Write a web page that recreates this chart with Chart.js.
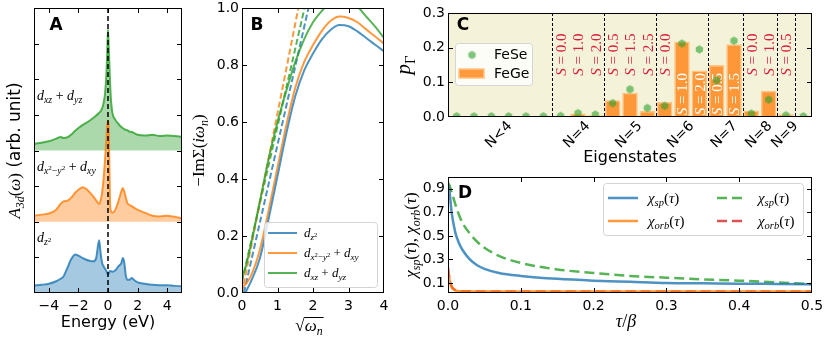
<!DOCTYPE html>
<html>
<head>
<meta charset="utf-8">
<script src="https://cdn.jsdelivr.net/npm/chart.js@4.4.1/dist/chart.umd.min.js"></script>
<style>
  html, body { margin: 0; padding: 0; background: #fff; }
  #wrap { position: relative; width: 830px; height: 342px; overflow: hidden; background: #fff; }
  #wrap canvas { position: absolute; }
</style>
</head>
<body>
<div id="wrap">
  <canvas id="panel-a" width="200" height="342" style="left:0;top:0"></canvas>
  <canvas id="panel-b" width="200" height="342" style="left:190px;top:0"></canvas>
  <canvas id="panel-c" width="440" height="172" style="left:390px;top:0"></canvas>
  <canvas id="panel-d" width="440" height="177" style="left:390px;top:165px"></canvas>
</div>
<script>
// ---- panel A: orbital resolved spectral function ----
const aEnergy = [-5, -4.5, -4, -3.5, -3.2, -3, -2.7, -2.5, -2.2, -2, -1.7, -1.5, -1.2, -1, -0.8, -0.6, -0.5, -0.4, -0.3, -0.2, -0.1, -0.05, 0,
                 0.05, 0.1, 0.15, 0.2, 0.3, 0.5, 0.7, 0.9, 1, 1.1, 1.2, 1.3, 1.45, 1.6, 1.8, 2, 2.5, 3, 3.5, 4, 4.5, 5];
const aDz2   = [0.21, 0.23, 0.26, 0.33, 0.40, 0.47, 0.75, 0.94, 1.08, 1.05, 0.98, 0.94, 0.90, 0.89, 0.98, 1.48, 1.12, 0.85, 0.75, 0.68, 0.61, 0.56, 0.51,
                0.55, 0.60, 0.62, 0.61, 0.60, 0.64, 0.75, 0.84, 0.98, 0.85, 0.50, 0.37, 0.37, 0.42, 0.35, 0.30, 0.26, 0.23, 0.22, 0.22, 0.20, 0.19];
const aDx2y2 = [0.17, 0.20, 0.23, 0.34, 0.50, 0.57, 0.60, 0.67, 0.82, 0.90, 0.97, 0.93, 0.81, 0.71, 0.60, 0.50, 0.60, 0.81, 1.20, 1.74, 2.40, 2.75, 2.82,
                2.60, 1.40, 0.43, 0.30, 0.25, 0.34, 0.57, 0.85, 0.95, 0.85, 0.68, 0.53, 0.47, 0.44, 0.38, 0.34, 0.25, 0.17, 0.15, 0.17, 0.14, 0.10];
const aDxz   = [0.19, 0.22, 0.26, 0.33, 0.38, 0.35, 0.38, 0.44, 0.56, 0.63, 0.72, 0.77, 0.85, 0.91, 0.98, 1.06, 1.10, 1.18, 1.33, 1.60, 2.20, 2.80, 3.39,
                2.90, 2.36, 1.80, 1.43, 1.05, 0.86, 0.75, 0.66, 0.63, 0.60, 0.58, 0.57, 0.53, 0.52, 0.48, 0.44, 0.42, 0.44, 0.41, 0.42, 0.41, 0.38];
const aOffsets = [0, 2, 4];
const aXTicks = [-4, -2, 0, 2, 4];
const aYTicks = [0, 1, 2, 3, 4, 5, 6, 7, 8];

// ---- panel B: self-energy vs sqrt(omega_n) ----
const bX = [0, 0.1, 0.25, 0.5, 0.75, 1, 1.25, 1.5, 1.75, 2, 2.25, 2.5, 2.75, 3, 3.25, 3.5, 3.75, 4];
const bDz2   = [-0.04, 0.0, 0.04, 0.12, 0.26, 0.41, 0.56, 0.69, 0.78, 0.84, 0.89, 0.924, 0.94, 0.936, 0.918, 0.895, 0.871, 0.848];
const bDx2y2 = [0.02, 0.03, 0.06, 0.15, 0.29, 0.44, 0.59, 0.72, 0.81, 0.87, 0.92, 0.955, 0.97, 0.965, 0.95, 0.925, 0.90, 0.875];
const bDxz   = [0.05, 0.09, 0.17, 0.32, 0.47, 0.60, 0.71, 0.81, 0.89, 0.95, 0.99, 1.02, 1.03, 1.025, 1.005, 0.97, 0.935, 0.895];
const bFitX = [0, 2.0];
const bFitDz2   = [-0.03, 1.07];
const bFitDx2y2 = [0.0, 1.26];
const bFitDxz   = [0.04, 1.13];
const bXTicks = [0, 1, 2, 3, 4];
const bYTicks = [0, 0.2, 0.4, 0.6, 0.8, 1.0];

// ---- panel C: eigenstate probabilities ----
const cCategories = ['0', '1', '2', '3', '4', '5', '6', '7', '8', '9', '10', '11', '12', '13', '14', '15', '16', '17', '18', '19', '20'];
const cFeGe = [0, 0, 0, 0, 0, 0, 0.003, 0.010, 0.005, 0.048, 0.070, 0.017, 0.043, 0.218, 0.134, 0.150, 0.210, 0.019, 0.076, 0.008, 0];
const cFeSe = [0.002, 0.002, 0.002, 0.002, 0.002, 0.002, 0.003, 0.011, 0.007, 0.040, 0.080, 0.026, 0.032, 0.212, 0.195, 0.106, 0.220, 0.010, 0.050, 0.005, 0.002];
const cSpinCats = [6, 7, 8, 9, 10, 11, 12, 13, 14, 15, 16, 17, 18, 19];
const cSpinVals = ['0.0', '1.0', '2.0', '0.5', '1.5', '2.5', '0.0', '1.0', '2.0', '0.5', '1.5', '0.0', '1.0', '0.5'];
const cSpinInside = [13, 14, 15, 16];
const cSeparators = [5.5, 8.5, 11.5, 14.5, 16.5, 18.5, 19.5];
const cTickPos = [2.5, 7, 10, 13, 15.5, 17.5, 19];
const cTickLabels = ['N<4', 'N=4', 'N=5', 'N=6', 'N=7', 'N=8', 'N=9'];
const cYTicks = [0, 0.1, 0.2, 0.3];

// ---- panel D: imaginary time correlators ----
const dTau = [0, 0.002, 0.005, 0.01, 0.015, 0.02, 0.03, 0.04, 0.05, 0.07, 0.1, 0.15, 0.2, 0.25, 0.3, 0.35, 0.4, 0.45, 0.5];
const dSpinFeGe = [0.94, 0.88, 0.70, 0.53, 0.44, 0.38, 0.30, 0.25, 0.22, 0.185, 0.16, 0.135, 0.12, 0.11, 0.10, 0.097, 0.094, 0.092, 0.09];
const dOrbFeGe  = [0.21, 0.13, 0.065, 0.038, 0.031, 0.029, 0.028, 0.028, 0.027, 0.027, 0.027, 0.027, 0.027, 0.027, 0.027, 0.027, 0.027, 0.027, 0.027];
const dSpinFeSe = [0.95, 0.93, 0.87, 0.77, 0.68, 0.61, 0.52, 0.45, 0.40, 0.33, 0.27, 0.215, 0.185, 0.16, 0.145, 0.13, 0.12, 0.105, 0.09];
const dOrbFeSe  = [0.23, 0.14, 0.07, 0.04, 0.032, 0.030, 0.029, 0.028, 0.028, 0.028, 0.028, 0.028, 0.028, 0.028, 0.028, 0.028, 0.028, 0.028, 0.028];
const dXTicks = [0, 0.1, 0.2, 0.3, 0.4, 0.5];
const dYTicks = [0.1, 0.3, 0.5, 0.7, 0.9];

const SANS = '"DejaVu Sans", sans-serif';
const SERIF = '"Liberation Serif", "DejaVu Serif", serif';
Chart.defaults.font.family = SANS;
Chart.defaults.font.size = 14;
Chart.defaults.color = '#000';

const BLUE = 'rgba(31,119,180,0.8)';
const ORANGE = 'rgba(255,127,14,0.8)';
const GREEN = 'rgba(44,160,44,0.8)';
const RED = 'rgba(214,39,40,0.8)';

// mathtext-like labels: [text, style] with i = italic, s = sans, _ = subscript, ^ = superscript
const lblDz2 = [['d', 'i'], ['z', 'i_'], ['2', '_^']];
const lblDx2y2 = [['d', 'i'], ['x', 'i_'], ['2', '_^'], ['\u2212', '_'], ['y', 'i_'], ['2', '_^'], [' + ', ''], ['d', 'i'], ['xy', 'i_']];
const lblDxz = [['d', 'i'], ['xz', 'i_'], [' + ', ''], ['d', 'i'], ['yz', 'i_']];
const lblChiSp = [['\u03c7', 'i'], ['sp', 'i_'], ['(', ''], ['\u03c4', 'i'], [')', '']];
const lblChiOrb = [['\u03c7', 'i'], ['orb', 'i_'], ['(', ''], ['\u03c4', 'i'], [')', '']];

function rich(ctx, parts, x, y, size, align, color) {
  const items = parts.map(([t, st]) => {
    let s = size, dy = 0;
    if (st.includes('_') && st.includes('^')) { s = size * 0.5; dy = -size * 0.03; }
    else if (st.includes('_')) { s = size * 0.7; dy = size * 0.22; }
    else if (st.includes('^')) { s = size * 0.7; dy = -size * 0.38; }
    const font = (st.includes('i') ? 'italic ' : '') + s.toFixed(1) + 'px ' + (st.includes('s') ? SANS : SERIF);
    ctx.font = font;
    return { t, font, dy, w: ctx.measureText(t).width };
  });
  const total = items.reduce((acc, it) => acc + it.w, 0);
  let cx = align === 'center' ? x - total / 2 : x;
  ctx.fillStyle = color || '#000';
  ctx.textAlign = 'left';
  ctx.textBaseline = 'alphabetic';
  items.forEach(it => { ctx.font = it.font; ctx.fillText(it.t, cx, y + it.dy); cx += it.w; });
  return total;
}

function richRot(ctx, parts, cx, cy, size, color) {
  ctx.save();
  ctx.translate(cx, cy);
  ctx.rotate(-Math.PI / 2);
  rich(ctx, parts, 0, size * 0.35, size, 'center', color);
  ctx.restore();
}

function plainText(ctx, s, x, y, size, align) {
  ctx.font = size + 'px ' + SANS;
  ctx.fillStyle = '#000';
  ctx.textAlign = align || 'center';
  ctx.textBaseline = 'middle';
  ctx.fillText(s, x, y);
}

function panelTag(ctx, s, x, y) {
  ctx.font = 'bold 17px ' + SANS;
  ctx.fillStyle = '#000';
  ctx.textAlign = 'center';
  ctx.textBaseline = 'middle';
  ctx.fillText(s, x, y);
}

function legendBox(ctx, x, y, w, h) {
  ctx.save();
  ctx.beginPath();
  ctx.roundRect(x + 0.5, y + 0.5, w, h, 3);
  ctx.fillStyle = 'rgba(255,255,255,0.8)';
  ctx.fill();
  ctx.strokeStyle = '#d4d4d4';
  ctx.lineWidth = 1;
  ctx.stroke();
  ctx.restore();
}

function legendLine(ctx, x0, x1, y, color, width, dash) {
  ctx.save();
  ctx.strokeStyle = color;
  ctx.lineWidth = width;
  ctx.setLineDash(dash || []);
  ctx.beginPath();
  ctx.moveTo(x0, y);
  ctx.lineTo(x1, y);
  ctx.stroke();
  ctx.restore();
}

// box around the axes with inward ticks on all four sides
function drawFrame(chart, opt) {
  const { ctx, chartArea: a, scales: { x, y } } = chart;
  const L = 5;
  ctx.save();
  ctx.strokeStyle = '#000';
  ctx.lineWidth = 1;
  ctx.beginPath();
  if (opt.x) x.ticks.forEach(t => {
    const p = Math.round(x.getPixelForValue(t.value)) + 0.5;
    if (p < a.left + 2 || p > a.right - 2) return;
    ctx.moveTo(p, a.bottom); ctx.lineTo(p, a.bottom - L);
    ctx.moveTo(p, a.top); ctx.lineTo(p, a.top + L);
  });
  if (opt.y) y.ticks.forEach(t => {
    const p = Math.round(y.getPixelForValue(t.value)) + 0.5;
    if (p < a.top + 2 || p > a.bottom - 2) return;
    ctx.moveTo(a.left, p); ctx.lineTo(a.left + L, p);
    ctx.moveTo(a.right, p); ctx.lineTo(a.right - L, p);
  });
  ctx.stroke();
  const l = Math.round(a.left), t = Math.round(a.top);
  ctx.strokeRect(l + 0.5, t + 0.5, Math.round(a.right) - l - 1, Math.round(a.bottom) - t - 1);
  ctx.restore();
}

const pts = (xs, ys, off) => xs.map((v, i) => ({ x: v, y: ys[i] + (off || 0) }));
const fixedTicks = vals => scale => { scale.ticks = vals.map(v => ({ value: v })); };
const signed = v => (v < 0 ? '\u2212' + Math.abs(v) : String(v));
const oneDec = v => Number(v).toFixed(1);
const NO_GRID = { display: false, drawTicks: false };
const axis = o => Object.assign({ type: 'linear', grid: NO_GRID, border: { display: false } }, o);
const flatTicks = o => Object.assign({ maxRotation: 0, minRotation: 0, autoSkip: false }, o);
// fix the axis box sizes so the plot areas land where the figure has them
const xFit = h => s => { s.height = h; s.paddingLeft = 0; s.paddingRight = 0; };
const yFit = w => s => { s.width = w; s.paddingTop = 0; s.paddingBottom = 0; };

function baseOptions(scales, padding) {
  return {
    responsive: false,
    animation: false,
    devicePixelRatio: 1,
    layout: { padding },
    plugins: { legend: { display: false }, tooltip: { enabled: false } },
    scales
  };
}

function lineSet(data, color, extra) {
  return Object.assign({
    data, borderColor: color, backgroundColor: color, borderWidth: 2,
    pointRadius: 0, cubicInterpolationMode: 'monotone', clip: 0, fill: false
  }, extra || {});
}

// ---------------- Panel A ----------------
new Chart(document.getElementById('panel-a'), {
  type: 'line',
  data: {
    datasets: [
      lineSet(pts(aEnergy, aDz2, aOffsets[0]), BLUE, { fill: { value: aOffsets[0] }, backgroundColor: 'rgba(31,119,180,0.4)' }),
      lineSet(pts(aEnergy, aDx2y2, aOffsets[1]), ORANGE, { fill: { value: aOffsets[1] }, backgroundColor: 'rgba(255,127,14,0.4)' }),
      lineSet(pts(aEnergy, aDxz, aOffsets[2]), GREEN, { fill: { value: aOffsets[2] }, backgroundColor: 'rgba(44,160,44,0.4)' })
    ]
  },
  options: baseOptions({
    x: axis({ min: -5, max: 5, ticks: flatTicks({ padding: 5, callback: signed }), afterBuildTicks: fixedTicks(aXTicks), afterFit: xFit(49) }),
    y: axis({ min: 0, max: 8, ticks: { display: false }, afterBuildTicks: fixedTicks(aYTicks), afterFit: yFit(34) })
  }, { top: 8, right: 18, left: 0, bottom: 0 }),
  plugins: [{
    id: 'panelA',
    afterDatasetsDraw(chart) {
      const { ctx, chartArea: a, scales: { x } } = chart;
      const px = x.getPixelForValue(0);
      ctx.save();
      ctx.setLineDash([5, 3]);
      ctx.lineWidth = 1.5;
      ctx.strokeStyle = '#000';
      ctx.beginPath();
      ctx.moveTo(px, a.top);
      ctx.lineTo(px, a.bottom);
      ctx.stroke();
      ctx.restore();
      drawFrame(chart, { x: true, y: true });
    },
    afterDraw(chart) {
      const { ctx, chartArea: a, scales: { y } } = chart;
      panelTag(ctx, 'A', a.left + 22, a.top + 18);
      [lblDz2, lblDx2y2, lblDxz].forEach((lbl, i) => {
        rich(ctx, lbl, a.left + 3, y.getPixelForValue(aOffsets[i] + 1.43), 14, 'left');
      });
      richRot(ctx, [['A', 'i'], ['3d', 'i_'], ['(', ''], ['\u03c9', 'i'], [')', ''], [' (arb. unit)', 's']], a.left - 20, (a.top + a.bottom) / 2, 17);
      plainText(ctx, 'Energy (eV)', (a.left + a.right) / 2, a.bottom + 30, 16);
    }
  }]
});

// ---------------- Panel B ----------------
new Chart(document.getElementById('panel-b'), {
  type: 'line',
  data: {
    datasets: [
      lineSet(pts(bX, bDz2), BLUE),
      lineSet(pts(bX, bDx2y2), ORANGE),
      lineSet(pts(bX, bDxz), GREEN),
      lineSet(pts(bFitX, bFitDz2), BLUE, { borderDash: [6, 3] }),
      lineSet(pts(bFitX, bFitDx2y2), ORANGE, { borderDash: [6, 3] }),
      lineSet(pts(bFitX, bFitDxz), GREEN, { borderDash: [6, 3] })
    ]
  },
  options: baseOptions({
    x: axis({ min: 0, max: 4, ticks: flatTicks({ padding: 5 }), afterBuildTicks: fixedTicks(bXTicks), afterFit: xFit(49) }),
    y: axis({ min: 0, max: 1, ticks: { padding: 3, callback: oneDec }, afterBuildTicks: fixedTicks(bYTicks), afterFit: yFit(52) })
  }, { top: 8, right: 6, left: 0, bottom: 0 }),
  plugins: [{
    id: 'panelB',
    afterDatasetsDraw(chart) { drawFrame(chart, { x: true, y: true }); },
    afterDraw(chart) {
      const { ctx, chartArea: a } = chart;
      panelTag(ctx, 'B', a.left + 15, a.top + 18);
      const lx = a.left + 22, ly = a.bottom - 71;
      legendBox(ctx, lx, ly, 113, 65);
      [[lblDz2, BLUE], [lblDx2y2, ORANGE], [lblDxz, GREEN]].forEach(([lbl, col], i) => {
        const ry = ly + 11 + i * 20;
        legendLine(ctx, lx + 4, lx + 33, ry, col, 2);
        rich(ctx, lbl, lx + 40, ry + 4, 13, 'left');
      });
      richRot(ctx, [['\u2212Im\u03a3', ''], ['(', ''], ['i\u03c9', 'i'], ['n', 'i_'], [')', '']], a.left - 44, (a.top + a.bottom) / 2, 17);
      // sqrt(omega_n)
      const cx = (a.left + a.right) / 2 - 4, by = a.bottom + 38;
      ctx.font = '17px ' + SERIF;
      const rw = ctx.measureText('\u221a').width;
      const w = rich(ctx, [['\u221a', ''], ['\u03c9', 'i'], ['n', 'i_']], cx, by, 17, 'center');
      const x0 = cx - w / 2 + rw - 0.5;
      ctx.save();
      ctx.strokeStyle = '#000';
      ctx.lineWidth = 1;
      ctx.beginPath();
      ctx.moveTo(x0, by - 13.5);
      ctx.lineTo(cx + w / 2 + 1, by - 13.5);
      ctx.stroke();
      ctx.restore();
    }
  }]
});

// ---------------- Panel C ----------------
function hexagon(r, fill) {
  const c = document.createElement('canvas');
  const s = Math.ceil(2 * r + 2);
  c.width = c.height = s;
  const g = c.getContext('2d');
  g.beginPath();
  for (let k = 0; k < 6; k++) {
    const ang = -Math.PI / 2 + k * Math.PI / 3;
    const px = s / 2 + r * Math.cos(ang), py = s / 2 + r * Math.sin(ang);
    if (k) g.lineTo(px, py); else g.moveTo(px, py);
  }
  g.closePath();
  g.fillStyle = fill;
  g.fill();
  return c;
}
const hexMark = hexagon(4.2, 'rgba(44,160,44,0.6)');
const BAR_FILL = 'rgba(255,127,14,0.8)';
const BAR_EDGE = 'rgba(255,196,130,1)';

new Chart(document.getElementById('panel-c'), {
  type: 'bar',
  data: {
    labels: cCategories,
    datasets: [
      { label: 'FeGe', data: cFeGe, backgroundColor: BAR_FILL, borderColor: BAR_EDGE, borderWidth: 1.5,
        barPercentage: 0.9, categoryPercentage: 1.0, order: 2 },
      { type: 'line', label: 'FeSe', data: cFeSe, showLine: false, pointStyle: hexMark, pointRadius: 4, order: 1 }
    ]
  },
  options: baseOptions({
    x: { type: 'category', offset: true, grid: NO_GRID, border: { display: false }, ticks: { display: false }, afterFit: xFit(55) },
    y: axis({ min: 0, max: 0.3, ticks: { padding: 3, callback: oneDec }, afterBuildTicks: fixedTicks(cYTicks), afterFit: yFit(58) })
  }, { top: 13, right: 18, left: 0, bottom: 0 }),
  plugins: [{
    id: 'panelC',
    beforeDatasetsDraw(chart) {
      const { ctx, chartArea: a, scales: { x } } = chart;
      ctx.save();
      ctx.fillStyle = 'rgb(244,243,217)';
      ctx.fillRect(a.left, a.top, a.width, a.height);
      ctx.strokeStyle = '#000';
      ctx.lineWidth = 1;
      ctx.setLineDash([3, 2]);
      ctx.beginPath();
      cSeparators.forEach(v => {
        const p = Math.round(x.getPixelForValue(v)) + 0.5;
        ctx.moveTo(p, a.top);
        ctx.lineTo(p, a.bottom);
      });
      ctx.stroke();
      ctx.restore();
    },
    afterDatasetDraw(chart, args) {
      if (args.index !== 0) return;
      const { ctx, scales: { x, y } } = chart;
      cSpinCats.forEach((c, i) => {
        const inside = cSpinInside.includes(c);
        const cy = y.getPixelForValue(inside ? 0.066 : 0.18);
        richRot(ctx, [['S', 'i'], [' = ' + cSpinVals[i], '']], x.getPixelForValue(c), cy, 15, inside ? '#fff' : 'rgb(220,30,60)');
      });
    },
    afterDatasetsDraw(chart) { drawFrame(chart, { x: false, y: true }); },
    afterDraw(chart) {
      const { ctx, chartArea: a, scales: { x } } = chart;
      panelTag(ctx, 'C', a.left + 15, a.top + 13);
      // legend
      const lx = a.left + 7, ly = a.top + 30;
      legendBox(ctx, lx, ly, 77, 42);
      ctx.drawImage(hexMark, lx + 17 - hexMark.width / 2, ly + 12 - hexMark.height / 2);
      plainText(ctx, 'FeSe', lx + 39, ly + 12, 14, 'left');
      ctx.fillStyle = BAR_FILL;
      ctx.fillRect(lx + 4, ly + 26, 25, 9);
      ctx.strokeStyle = BAR_EDGE;
      ctx.lineWidth = 1.5;
      ctx.strokeRect(lx + 4, ly + 26, 25, 9);
      plainText(ctx, 'FeGe', lx + 39, ly + 31, 14, 'left');
      // rotated group labels
      cTickPos.forEach((p, i) => {
        ctx.save();
        ctx.translate(x.getPixelForValue(p) - 1, a.bottom + 18);
        ctx.rotate(-Math.PI / 4);
        plainText(ctx, cTickLabels[i], 0, 0, 14, 'center');
        ctx.restore();
      });
      plainText(ctx, 'Eigenstates', (a.left + a.right) / 2, a.bottom + 41, 16);
      richRot(ctx, [['p', 'i'], ['\u0393', '_']], a.left - 45, (a.top + a.bottom) / 2, 21);
    }
  }]
});

// ---------------- Panel D ----------------
new Chart(document.getElementById('panel-d'), {
  type: 'line',
  data: {
    datasets: [
      lineSet(pts(dTau, dSpinFeGe), BLUE, { borderWidth: 2.5 }),
      lineSet(pts(dTau, dOrbFeGe), ORANGE, { borderWidth: 2.5 }),
      lineSet(pts(dTau, dSpinFeSe), GREEN, { borderWidth: 2.5, borderDash: [10, 5] }),
      lineSet(pts(dTau, dOrbFeSe), RED, { borderWidth: 2.5, borderDash: [10, 5] })
    ]
  },
  options: baseOptions({
    x: axis({ min: 0, max: 0.5, ticks: flatTicks({ padding: 5, callback: oneDec }), afterBuildTicks: fixedTicks(dXTicks), afterFit: xFit(49) }),
    y: axis({ min: 0.015, max: 1.0, ticks: { padding: 3, callback: oneDec }, afterBuildTicks: fixedTicks(dYTicks), afterFit: yFit(58) })
  }, { top: 12, right: 18, left: 0, bottom: 0 }),
  plugins: [{
    id: 'panelD',
    afterDatasetsDraw(chart) { drawFrame(chart, { x: true, y: true }); },
    afterDraw(chart) {
      const { ctx, chartArea: a } = chart;
      panelTag(ctx, 'D', a.left + 17, a.top + 17);
      const lx = a.left + 155, ly = a.top + 6;
      legendBox(ctx, lx, ly, 200, 52);
      const rows = [ly + 15, ly + 38];
      legendLine(ctx, lx + 5, lx + 35, rows[0], BLUE, 2.5);
      legendLine(ctx, lx + 5, lx + 35, rows[1], ORANGE, 2.5);
      legendLine(ctx, lx + 114, lx + 144, rows[0], GREEN, 2.5, [10, 5]);
      legendLine(ctx, lx + 114, lx + 144, rows[1], RED, 2.5, [10, 5]);
      rich(ctx, lblChiSp, lx + 45, rows[0] + 5, 15, 'left');
      rich(ctx, lblChiOrb, lx + 45, rows[1] + 5, 15, 'left');
      rich(ctx, lblChiSp, lx + 155, rows[0] + 5, 15, 'left');
      rich(ctx, lblChiOrb, lx + 155, rows[1] + 5, 15, 'left');
      richRot(ctx, [['\u03c7', 'i'], ['sp', 'i_'], ['(', ''], ['\u03c4', 'i'], ['), ', ''], ['\u03c7', 'i'], ['orb', 'i_'], ['(', ''], ['\u03c4', 'i'], [')', '']],
        a.left - 38, (a.top + a.bottom) / 2, 17);
      rich(ctx, [['\u03c4', 'i'], ['/', ''], ['\u03b2', 'i']], (a.left + a.right) / 2 - 4, a.bottom + 34, 18, 'center');
    }
  }]
});
</script>
</body>
</html>
